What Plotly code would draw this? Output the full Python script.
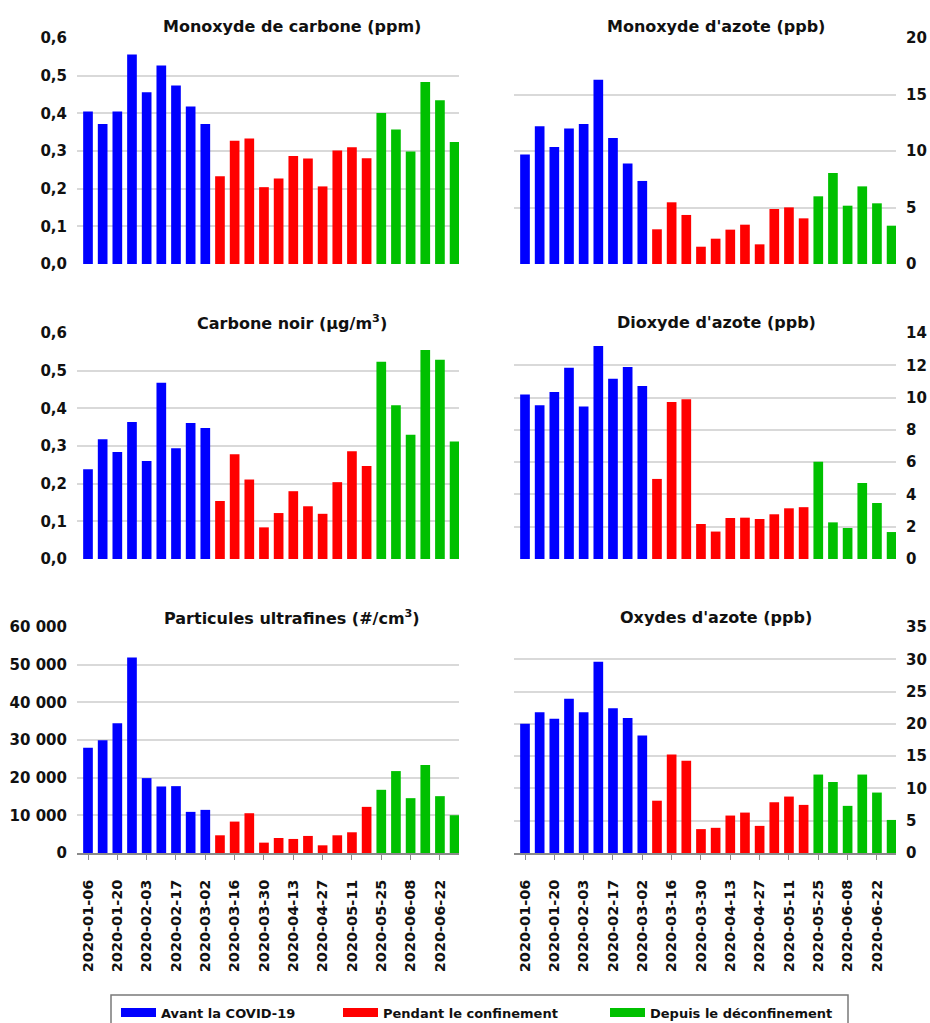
import plotly.graph_objects as go

# ---------------- data ----------------
weeks = ["2020-01-06", "2020-01-13", "2020-01-20", "2020-01-27", "2020-02-03", "2020-02-10",
         "2020-02-17", "2020-02-24", "2020-03-02", "2020-03-09", "2020-03-16", "2020-03-23",
         "2020-03-30", "2020-04-06", "2020-04-13", "2020-04-20", "2020-04-27", "2020-05-04",
         "2020-05-11", "2020-05-18", "2020-05-25", "2020-06-01", "2020-06-08", "2020-06-15",
         "2020-06-22", "2020-06-29"]
tick_weeks = ["2020-01-06", "2020-01-20", "2020-02-03", "2020-02-17", "2020-03-02", "2020-03-16",
              "2020-03-30", "2020-04-13", "2020-04-27", "2020-05-11", "2020-05-25", "2020-06-08",
              "2020-06-22"]
# 0 = Avant la COVID-19, 1 = Pendant le confinement, 2 = Depuis le déconfinement
period = [0, 0, 0, 0, 0, 0, 0, 0, 0,
          1, 1, 1, 1, 1, 1, 1, 1, 1, 1, 1,
          2, 2, 2, 2, 2, 2]
period_names = ["Avant la COVID-19", "Pendant le confinement", "Depuis le déconfinement"]
period_colors = ["#0000ff", "#ff0000", "#00c000"]

co = [0.405, 0.372, 0.405, 0.556, 0.456, 0.527, 0.474, 0.418, 0.372,
      0.233, 0.327, 0.333, 0.204, 0.227, 0.287, 0.280, 0.206, 0.301, 0.310, 0.281,
      0.401, 0.357, 0.299, 0.483, 0.435, 0.324]
no = [9.7, 12.2, 10.35, 12.0, 12.4, 16.3, 11.15, 8.9, 7.35,
      3.07, 5.46, 4.34, 1.53, 2.24, 3.04, 3.48, 1.74, 4.87, 5.01, 4.04,
      5.99, 8.05, 5.16, 6.87, 5.37, 3.39]
bc = [0.238, 0.318, 0.284, 0.364, 0.260, 0.468, 0.294, 0.361, 0.348,
      0.154, 0.278, 0.211, 0.084, 0.122, 0.180, 0.140, 0.120, 0.204, 0.286, 0.247,
      0.524, 0.408, 0.330, 0.555, 0.529, 0.312]
no2 = [10.19, 9.53, 10.34, 11.85, 9.45, 13.19, 11.17, 11.89, 10.71,
       4.96, 9.72, 9.90, 2.17, 1.70, 2.54, 2.56, 2.48, 2.77, 3.14, 3.21,
       6.02, 2.27, 1.92, 4.71, 3.47, 1.67]
ufp = [27960, 29910, 34440, 51920, 19880, 17660, 17750, 10920, 11450,
       4700, 8340, 10560, 2750, 3990, 3730, 4530, 2040, 4700, 5500, 12250,
       16780, 21750, 14560, 23340, 15090, 10030]
nox = [20.0, 21.8, 20.8, 23.9, 21.8, 29.6, 22.4, 20.9, 18.2,
       8.1, 15.25, 14.3, 3.7, 3.9, 5.8, 6.26, 4.2, 7.86, 8.74, 7.45,
       12.15, 11.0, 7.3, 12.15, 9.36, 5.12]

titles = ["Monoxyde de carbone (ppm)", "Monoxyde d'azote (ppb)",
          "Carbone noir (µg/m<sup>3</sup>)", "Dioxyde d'azote (ppb)",
          "Particules ultrafines (#/cm<sup>3</sup>)", "Oxydes d'azote (ppb)"]
series = [co, no, bc, no2, ufp, nox]
y_ranges = [[0, 0.6], [0, 20], [0, 0.6], [0, 14], [0, 60000], [0, 35]]
y_dticks = [0.1, 5, 0.1, 2, 10000, 5]
y_formats = [".1f", "d", ".1f", "d", ",d", "d"]

# ---------------- layout geometry (pixels) ----------------
W, H = 930, 1023
FONT = "DejaVu Sans"
col_px = [(77, 459), (514, 896)]
row_px = [(38, 264), (333, 559), (627, 853)]
title_cx = [292, 716]
title_cy = [27, 323, 617]

fig = go.Figure()
bar_colors = [period_colors[p] for p in period]

for i in range(6):
    r, c = divmod(i, 2)
    ax = "" if i == 0 else str(i + 1)
    fig.add_trace(go.Bar(
        x=weeks, y=series[i], marker=dict(color=bar_colors, line=dict(width=0)),
        xaxis="x" + ax, yaxis="y" + ax, showlegend=False, hoverinfo="x+y"))
    bottom = (r == 2)
    x0, x1 = col_px[c]
    ytop, ybot = row_px[r]
    fig.layout["xaxis" + ax] = dict(
        domain=[x0 / W, x1 / W], anchor="y" + ax, type="category",
        categoryorder="array", categoryarray=weeks,
        range=[-0.75, 25.3], showgrid=False, zeroline=False,
        showline=bottom, linecolor="#8a8a8a", linewidth=1.5,
        ticks="outside" if bottom else "", ticklen=5, tickwidth=1.2, tickcolor="#8a8a8a",
        showticklabels=bottom, tickmode="array", tickvals=tick_weeks, ticktext=tick_weeks,
        tickangle=-90, tickfont=dict(family=FONT, size=14.5, color="#111111", weight="bold"),
        ticklabelstandoff=14, automargin=False, fixedrange=True)
    fig.layout["yaxis" + ax] = dict(
        domain=[1 - ybot / H, 1 - ytop / H], anchor="x" + ax,
        side="left" if c == 0 else "right",
        range=y_ranges[i], dtick=y_dticks[i], tick0=0, tickformat=y_formats[i],
        showgrid=True, gridcolor="#d9d9d9", gridwidth=1.5, zeroline=False,
        showline=False, ticks="", ticklabelstandoff=9,
        tickfont=dict(family=FONT, size=15, color="#111111", weight="bold"),
        automargin=False, fixedrange=True)
    fig.add_annotation(
        text=titles[i], xref="paper", yref="paper",
        x=title_cx[c] / W, y=1 - title_cy[r] / H, xanchor="center", yanchor="middle",
        showarrow=False, font=dict(family=FONT, size=16, color="#111111", weight="bold"))

# legend entries (line swatches look like the wide legend keys of the original)
legend_widths = [172, 217, 190]
for k in range(3):
    fig.add_trace(go.Scatter(
        x=[None], y=[None], mode="lines", name=period_names[k],
        line=dict(color=period_colors[k], width=9),
        legendwidth=legend_widths[k], xaxis="x5", yaxis="y5", hoverinfo="skip"))

# legend frame
fig.add_shape(type="rect", xref="paper", yref="paper",
              x0=111 / W, x1=848 / W, y0=-0.05, y1=1 - 995 / H,
              line=dict(color="#7a7a7a", width=1.5), fillcolor="rgba(0,0,0,0)")

fig.update_layout(
    width=W, height=H, paper_bgcolor="white", plot_bgcolor="white",
    margin=dict(l=0, r=0, t=0, b=0, autoexpand=False),
    separators=", ", barmode="overlay", bargap=0.34,
    font=dict(family=FONT, color="#111111"),
    showlegend=True,
    legend=dict(orientation="h", x=116 / W, xanchor="left", y=1 - 1012.5 / H, yanchor="middle",
                bgcolor="rgba(0,0,0,0)", borderwidth=0, itemwidth=35,
                font=dict(family=FONT, size=13, color="#111111", weight="bold"),
                itemclick=False, itemdoubleclick=False),
)

fig.write_html("out.html", config={"displayModeBar": False},
               post_script="document.body.style.margin='0';document.body.style.overflow='hidden';")
